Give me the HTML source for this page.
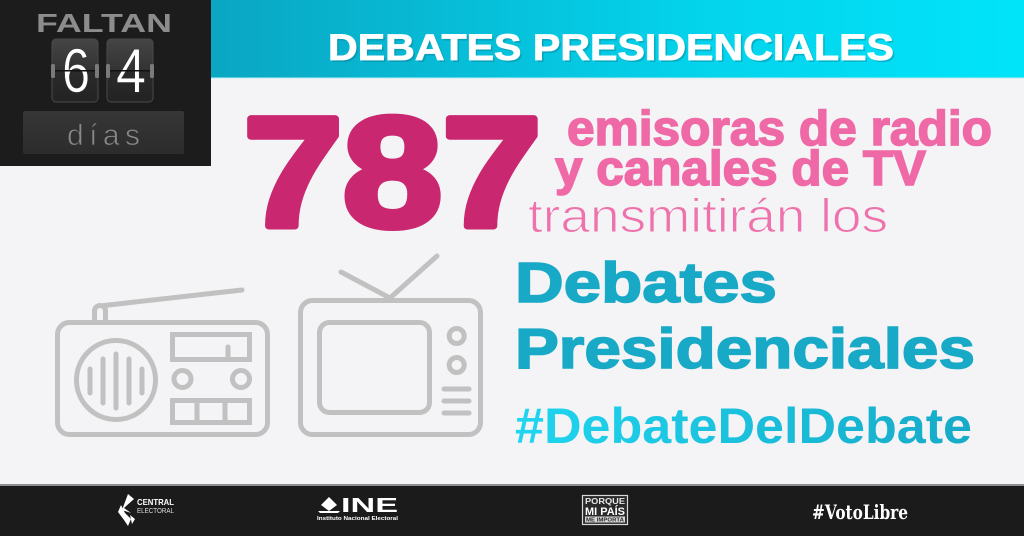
<!DOCTYPE html>
<html>
<head>
<meta charset="utf-8">
<style>
  html,body{margin:0;padding:0;background:#f4f4f6;}
  svg{display:block;}
  text{font-family:"Liberation Sans","DejaVu Sans",sans-serif;}
</style>
</head>
<body>
<svg width="1024" height="536" viewBox="0 0 1024 536" xmlns="http://www.w3.org/2000/svg">
  <defs>
    <linearGradient id="ban" x1="0" y1="0" x2="1" y2="0">
      <stop offset="0" stop-color="#0aa6c2"/>
      <stop offset="0.6" stop-color="#04d3ec"/>
      <stop offset="1" stop-color="#00e4fa"/>
    </linearGradient>
    <linearGradient id="tile" x1="0" y1="0" x2="0" y2="1">
      <stop offset="0" stop-color="#454545"/>
      <stop offset="0.5" stop-color="#333"/>
      <stop offset="0.5" stop-color="#2b2b2b"/>
      <stop offset="1" stop-color="#232323"/>
    </linearGradient>
    <linearGradient id="dias" x1="0" y1="0" x2="0" y2="1">
      <stop offset="0" stop-color="#363636"/>
      <stop offset="1" stop-color="#2c2c2c"/>
    </linearGradient>
    <linearGradient id="hash" x1="515" y1="0" x2="972" y2="0" gradientUnits="userSpaceOnUse">
      <stop offset="0" stop-color="#1fd6f0"/>
      <stop offset="1" stop-color="#16aac8"/>
    </linearGradient>
  </defs>

  <!-- main background -->
  <rect x="0" y="0" width="1024" height="536" fill="#f4f4f6"/>

  <!-- banner -->
  <rect x="211" y="0" width="813" height="78" fill="url(#ban)"/>
  <rect x="211" y="77" width="813" height="1.5" fill="#9fe6f0" opacity="0.6"/>
  <text x="330" y="62" font-size="37" font-weight="bold" fill="#0a6f82" opacity="0.35" textLength="566" lengthAdjust="spacingAndGlyphs">DEBATES PRESIDENCIALES</text>
  <text x="328" y="60" font-size="37" font-weight="bold" fill="#ffffff" stroke="#ffffff" stroke-width="0.8" textLength="566" lengthAdjust="spacingAndGlyphs">DEBATES PRESIDENCIALES</text>

  <!-- countdown box -->
  <rect x="0" y="0" width="211" height="166" fill="#1c1c1c"/>
  <text x="36" y="32" font-size="26" font-weight="bold" fill="#8c8c8c" textLength="136" lengthAdjust="spacingAndGlyphs">FALTAN</text>
  <!-- tiles -->
  <rect x="52" y="39" width="46" height="63" rx="4" fill="url(#tile)" stroke="#4a4a4a" stroke-width="1"/>
  <rect x="107" y="39" width="46" height="63" rx="4" fill="url(#tile)" stroke="#4a4a4a" stroke-width="1"/>
  <text x="62" y="92" font-size="62" fill="#ffffff" stroke="#333" stroke-width="0.6" textLength="28" lengthAdjust="spacingAndGlyphs">6</text>
  <text x="116" y="92" font-size="62" fill="#ffffff" stroke="#333" stroke-width="0.6" textLength="30" lengthAdjust="spacingAndGlyphs">4</text>
  <rect x="52" y="70" width="46" height="1.5" fill="#111"/>
  <rect x="107" y="70" width="46" height="1.5" fill="#111"/>
  <rect x="51" y="64" width="4" height="14" rx="1.5" fill="#7a7a7a"/>
  <rect x="95" y="64" width="4" height="14" rx="1.5" fill="#7a7a7a"/>
  <rect x="106" y="64" width="4" height="14" rx="1.5" fill="#7a7a7a"/>
  <rect x="150" y="64" width="4" height="14" rx="1.5" fill="#7a7a7a"/>
  <!-- dias -->
  <rect x="23" y="111" width="161" height="43" rx="2" fill="url(#dias)"/>
  <text x="67" y="145" font-size="30" fill="#8a8a8a" stroke="#323232" stroke-width="0.8" textLength="73" lengthAdjust="spacing">días</text>

  <!-- 787 -->
  <text x="243.5" y="226" font-size="156" font-weight="bold" fill="#c9276f" stroke="#c9276f" stroke-width="7" stroke-linejoin="round" textLength="298" lengthAdjust="spacingAndGlyphs">787</text>
  <text x="567" y="145" font-size="49" font-weight="bold" fill="#ef69a6" stroke="#ef69a6" stroke-width="1.6" textLength="425" lengthAdjust="spacingAndGlyphs">emisoras de radio</text>
  <text x="555" y="185" font-size="49" font-weight="bold" fill="#ef69a6" stroke="#ef69a6" stroke-width="1.6" textLength="371" lengthAdjust="spacingAndGlyphs">y canales de TV</text>
  <text x="528" y="232" font-size="47" fill="#ee72ac" stroke="#f4f4f6" stroke-width="1.1" textLength="360" lengthAdjust="spacingAndGlyphs">transmitirán los</text>

  <!-- Debates Presidenciales -->
  <text x="515" y="302" font-size="57" font-weight="bold" fill="#18a9c7" stroke="#18a9c7" stroke-width="1.6" textLength="262" lengthAdjust="spacingAndGlyphs">Debates</text>
  <text x="515" y="368" font-size="57" font-weight="bold" fill="#18a9c7" stroke="#18a9c7" stroke-width="1.6" textLength="460" lengthAdjust="spacingAndGlyphs">Presidenciales</text>
  <text x="515" y="443" font-size="50" font-weight="bold" fill="url(#hash)" textLength="457" lengthAdjust="spacingAndGlyphs">#DebateDelDebate</text>

  <!-- radio icon -->
  <g fill="none" stroke="#c1c1c1" stroke-width="5" stroke-linecap="round" stroke-linejoin="round">
    <rect x="57.5" y="322.5" width="210" height="112" rx="12"/>
    <path d="M94.5 321 V311 A5.5 5.5 0 0 1 105.5 311 V321"/>
    <line x1="104" y1="305.5" x2="242" y2="290"/>
    <circle cx="116" cy="380" r="39.5"/>
    <line x1="90" y1="369" x2="90" y2="393"/>
    <line x1="103" y1="359" x2="103" y2="403"/>
    <line x1="116" y1="354" x2="116" y2="408"/>
    <line x1="129" y1="359" x2="129" y2="403"/>
    <line x1="142" y1="369" x2="142" y2="393"/>
    <rect x="172.5" y="334.5" width="77" height="25" stroke-linecap="butt" stroke-linejoin="miter"/>
    <line x1="228" y1="347" x2="228" y2="359"/>
    <circle cx="182.5" cy="379" r="8.5"/>
    <circle cx="241" cy="379" r="8.5"/>
    <rect x="172.5" y="400.5" width="77" height="22" stroke-linejoin="miter"/>
    <line x1="197" y1="400.5" x2="197" y2="422.5" stroke-linecap="butt"/>
    <line x1="225" y1="400.5" x2="225" y2="422.5" stroke-linecap="butt"/>
  </g>

  <!-- tv icon -->
  <g fill="none" stroke="#c1c1c1" stroke-width="5" stroke-linecap="round" stroke-linejoin="round">
    <rect x="300.5" y="300.5" width="180" height="134" rx="12"/>
    <rect x="319.5" y="322.5" width="110" height="90" rx="10"/>
    <line x1="390" y1="298" x2="341" y2="272"/>
    <line x1="390" y1="298" x2="437" y2="256"/>
    <circle cx="456.7" cy="336" r="7.5"/>
    <circle cx="456.7" cy="365" r="7.5"/>
    <line x1="444" y1="389" x2="469" y2="389"/>
    <line x1="444" y1="401" x2="469" y2="401"/>
    <line x1="444" y1="413" x2="469" y2="413"/>
  </g>

  <!-- footer -->
  <rect x="0" y="484" width="1024" height="2" fill="#8e8e8e"/>
  <rect x="0" y="486" width="1024" height="50" fill="#1b1b1b"/>

  <!-- Central Electoral -->
  <g fill="#ffffff">
    <polygon points="128,494 134,499 124,508 131,513 122,510"/>
    <polygon points="121,505 118,512 124,520 128,526 131,519 125,513"/>
    <polygon points="130,515 135,519 132,524"/>
  </g>
  <text x="137" y="505" font-size="8.5" font-weight="bold" fill="#ffffff" textLength="37" lengthAdjust="spacingAndGlyphs">CENTRAL</text>
  <text x="137" y="513" font-size="7" fill="#dddddd" textLength="37" lengthAdjust="spacingAndGlyphs">ELECTORAL</text>

  <!-- INE -->
  <polygon points="329,497 337,505 329,511 321,505" fill="#ffffff"/>
  <polygon points="318,511 340,511 338,513 320,513" fill="#ffffff"/>
  <text x="341" y="512" font-size="20" font-weight="bold" fill="#ffffff" textLength="57" lengthAdjust="spacingAndGlyphs">INE</text>
  <text x="317" y="520" font-size="5" font-weight="bold" fill="#ffffff" textLength="81" lengthAdjust="spacingAndGlyphs">Instituto Nacional Electoral</text>

  <!-- Porque mi país me importa -->
  <rect x="582.5" y="495.5" width="45" height="29" fill="#2a2a2a" stroke="#d8d8d8" stroke-width="1.2"/>
  <text x="585" y="504" font-size="8" font-weight="bold" fill="#e8e8e8" textLength="40" lengthAdjust="spacingAndGlyphs">PORQUE</text>
  <text x="585" y="515" font-size="11" font-weight="bold" fill="#ffffff" textLength="40" lengthAdjust="spacingAndGlyphs">MI PAÍS</text>
  <rect x="585" y="516.5" width="40" height="6" fill="#d8d8d8"/>
  <text x="586" y="521.5" font-size="5" font-weight="bold" fill="#2a2a2a" textLength="38" lengthAdjust="spacingAndGlyphs">ME IMPORTA</text>

  <!-- #VotoLibre -->
  <text x="812" y="519" font-size="20" font-weight="bold" fill="#ffffff" style="font-family:'DejaVu Serif','Liberation Serif',serif" textLength="96" lengthAdjust="spacingAndGlyphs">#VotoLibre</text>
</svg>
</body>
</html>
